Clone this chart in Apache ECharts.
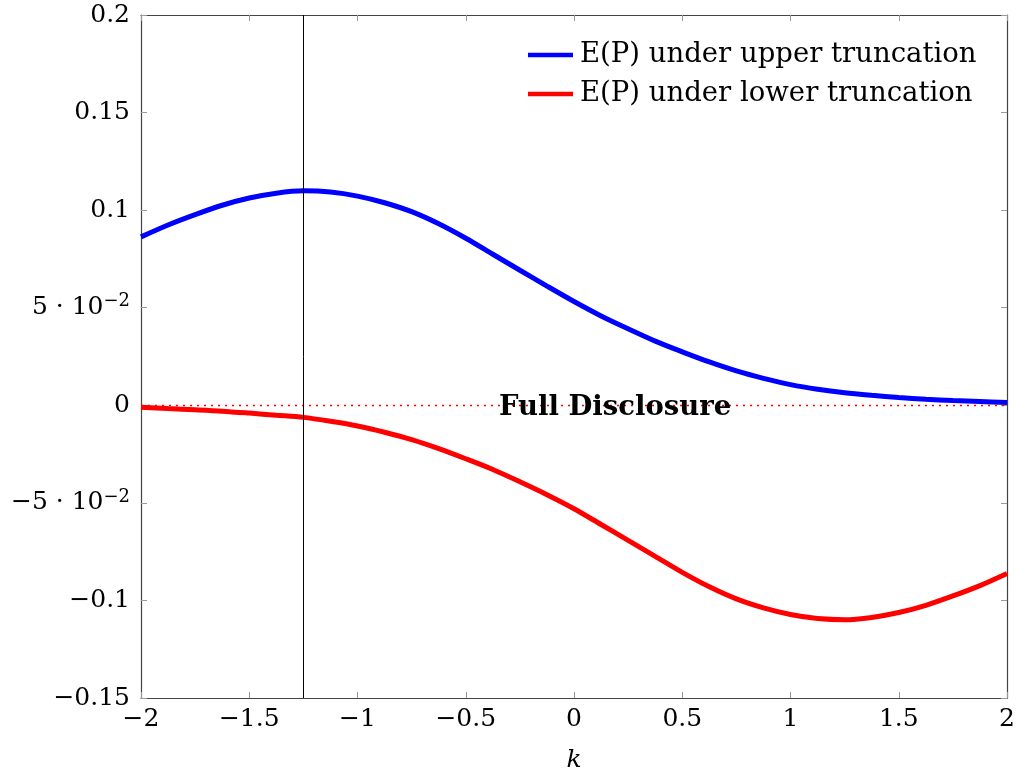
<!DOCTYPE html>
<html>
<head>
<meta charset="utf-8">
<script src="https://cdn.jsdelivr.net/npm/echarts@6/dist/echarts.min.js"></script>
<style>html,body{margin:0;padding:0;background:#fff}#c{width:1018px;height:778px}</style>
</head>
<body>
<div id="c"></div>
<script>
const kValues = [-2, -1.875, -1.75, -1.625, -1.5, -1.375, -1.25, -1.125, -1, -0.875, -0.75, -0.625, -0.5, -0.375, -0.25, -0.125, 0,
                 0.125, 0.25, 0.375, 0.5, 0.625, 0.75, 0.875, 1, 1.125, 1.25, 1.375, 1.5, 1.625, 1.75, 1.875, 2];
const upperTrunc = [0.0863, 0.0924, 0.0977, 0.1025, 0.1062, 0.1087, 0.1099, 0.1093, 0.1072, 0.1038, 0.0992, 0.0930, 0.0856, 0.0774, 0.0692, 0.0611, 0.0532,
                    0.0458, 0.0392, 0.0329, 0.0274, 0.0222, 0.0176, 0.0138, 0.0106, 0.0082, 0.0064, 0.0051, 0.0040, 0.0031, 0.0024, 0.0019, 0.0014];
const lowerTrunc = [-0.0010, -0.0017, -0.0023, -0.0030, -0.0040, -0.0051, -0.0062, -0.0082, -0.0106, -0.0138, -0.0176, -0.0222, -0.0274, -0.0329, -0.0392, -0.0458, -0.0530,
                    -0.0611, -0.0692, -0.0774, -0.0856, -0.0930, -0.0992, -0.1038, -0.1072, -0.1093, -0.1099, -0.1087, -0.1062, -0.1025, -0.0977, -0.0924, -0.0862];
const seriesNames = ['E(P) under upper truncation', 'E(P) under lower truncation'];
const xTickLabels = ['\u22122', '\u22121.5', '\u22121', '\u22120.5', '0', '0.5', '1', '1.5', '2'];
const yTickLabels = ['\u22120.15', '\u22120.1', '\u22125 \u00b7 10{sup|\u22122}', '0', '5 \u00b7 10{sup|\u22122}', '0.1', '0.15', '0.2'];
const markerK = -1.25;
const annotation = {text: 'Full Disclosure', k: 0.19, y: 0};

const FONT = '"DejaVu Serif", "Liberation Serif", serif';
const xMin = -2, xMax = 2, xInt = 0.5;
const yMin = -0.15, yMax = 0.2, yInt = 0.05;

function pairs(xs, ys) { return xs.map((x, i) => [x, ys[i]]); }

const chart = echarts.init(document.getElementById('c'), null, {renderer: 'canvas'});
const tickStyle = {show: true, inside: true, length: 6, lineStyle: {color: '#999', width: 1}};
const axisLineStyle = {show: true, onZero: false, lineStyle: {color: '#444', width: 1.2}};

chart.setOption({
  animation: false,
  backgroundColor: '#fff',
  grid: {left: 141, right: 10, top: 15, bottom: 79, containLabel: false},
  legend: {
    top: 40, left: 528, orient: 'vertical', padding: 0,
    itemWidth: 45, itemHeight: 30, itemGap: 9,
    icon: 'path://M0,0 L45,0 L45,4.5 L0,4.5 Z',
    textStyle: {fontFamily: FONT, fontSize: 27.5, color: '#000', lineHeight: 30, padding: [0, 0, 0, 2]},
    data: seriesNames
  },
  xAxis: [{
    type: 'value', min: xMin, max: xMax, interval: xInt,
    axisLine: axisLineStyle, axisTick: tickStyle, splitLine: {show: false},
    axisLabel: {
      fontFamily: FONT, fontSize: 25, color: '#000', margin: 9,
      formatter: v => xTickLabels[Math.round((v - xMin) / xInt)]
    },
    name: 'k', nameLocation: 'middle', nameGap: 50,
    nameTextStyle: {fontFamily: FONT, fontSize: 25, fontStyle: 'italic', color: '#000'}
  }, {
    type: 'value', position: 'top', min: xMin, max: xMax, interval: xInt,
    axisLine: axisLineStyle, axisTick: tickStyle, axisLabel: {show: false}, splitLine: {show: false}
  }],
  yAxis: [{
    type: 'value', min: yMin, max: yMax, interval: yInt,
    axisLine: axisLineStyle, axisTick: tickStyle, splitLine: {show: false},
    axisLabel: {
      fontFamily: FONT, fontSize: 25, color: '#000', margin: 11,
      formatter: v => yTickLabels[Math.round((v - yMin) / yInt)],
      rich: {sup: {fontFamily: FONT, fontSize: 18, color: '#000', verticalAlign: 'top', padding: [0, 0, 12, 0]}}
    }
  }, {
    type: 'value', position: 'right', min: yMin, max: yMax, interval: yInt,
    axisLine: axisLineStyle, axisTick: tickStyle, axisLabel: {show: false}, splitLine: {show: false}
  }],
  series: [{
    name: seriesNames[0], type: 'line', smooth: 0.3, symbol: 'none',
    data: pairs(kValues, upperTrunc),
    lineStyle: {color: '#0000ff', width: 5}, itemStyle: {color: '#0000ff'},
    z: 3
  }, {
    name: seriesNames[1], type: 'line', smooth: 0.3, symbol: 'none',
    data: pairs(kValues, lowerTrunc),
    lineStyle: {color: '#ff0000', width: 5}, itemStyle: {color: '#ff0000'},
    z: 3
  }, {
    name: 'zeroRef', type: 'line', data: [], symbol: 'none', silent: true,
    markLine: {
      silent: true, symbol: ['none', 'none'], animation: false, label: {show: false},
      lineStyle: {color: '#ff0000', width: 1.3, type: [2, 5], opacity: 1},
      emphasis: {disabled: true},
      data: [{yAxis: 0}]
    },
    markPoint: {
      silent: true, symbol: 'circle', symbolSize: 0,
      data: [{coord: [annotation.k, annotation.y], value: annotation.text}],
      label: {
        show: true, position: 'inside', formatter: annotation.text,
        fontFamily: FONT, fontSize: 27.5, fontWeight: 'bold', color: '#000', offset: [0, 3]
      }
    },
    z: 2
  }, {
    name: 'kRef', type: 'line', data: [], symbol: 'none', silent: true,
    markLine: {
      silent: true, symbol: ['none', 'none'], animation: false, label: {show: false},
      lineStyle: {color: '#000', width: 1, type: 'solid', opacity: 1},
      emphasis: {disabled: true},
      data: [{xAxis: markerK}]
    },
    z: 2
  }]
});
</script>
</body>
</html>
